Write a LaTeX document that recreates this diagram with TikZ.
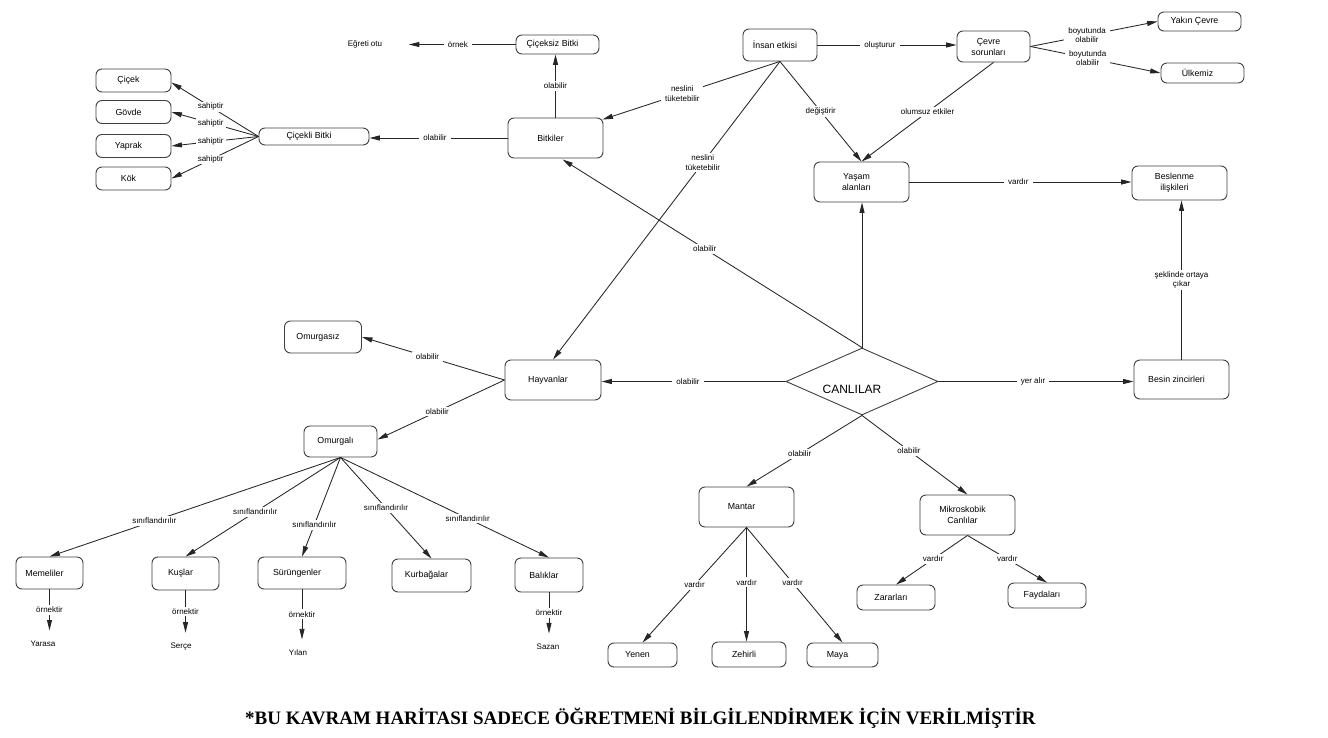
\documentclass[tikz,border=0pt]{standalone}
\usepackage{fontspec}
\setmainfont{Liberation Sans}
\newfontfamily\titlefont{Liberation Serif}
\usetikzlibrary{shapes.geometric,arrows.meta,calc}
\newcommand\sh{\hspace*{10pt}}
\begin{document}
\begin{tikzpicture}[x=1pt,y=-1pt,
  box/.style 2 args={draw=black!75, line width=0.9pt, rounded corners=6pt, fill=white,
     font=\fontsize{8.8}{11}\selectfont, align=center, inner sep=0pt,
     minimum width=#1pt, minimum height=#2pt},
  conn/.style={draw=black!85, line width=0.85pt, -{Triangle[length=10.5pt,width=5pt]}},
  lab/.style={fill=white, font=\fontsize{8}{9.5}\selectfont, inner xsep=4pt, inner ysep=2pt, align=center},
  plaintext/.style={font=\fontsize{8}{9.5}\selectfont, inner sep=1.5pt}]
\useasboundingbox (0,0) rectangle (1328,738);
\fill[white] (0,0) rectangle (1328,738);

% ---- nodes ----
\node[box={75}{23}] (cicek) at (133.5,80.5) {Çiçek\sh};
\node[box={75}{23}] (govde) at (133.5,112) {Gövde\sh};
\node[box={75}{23}] (yaprak) at (133.5,146) {Yaprak\sh};
\node[box={75}{23}] (kok) at (133.5,178.5) {Kök\sh};
\node[box={110}{17}] (cicekli) at (314,136.5) {Çiçekli Bitki\sh};
\node[box={83}{19}] (ciceksiz) at (557.5,44.5) {Çiçeksiz Bitki\sh};
\node[plaintext] (eg) at (365,44.5) {Eğreti otu};
\node[box={95}{40}] (bitkiler) at (555.5,138) {Bitkiler\sh};
\node[box={74}{32}] (insan) at (780,45) {İnsan etkisi\sh};
\node[box={73}{31}] (cevre) at (993.5,46.5) {Çevre\sh\\sorunları\sh};
\node[box={83}{19}] (yakin) at (1199.5,21.5) {Yakın Çevre\sh};
\node[box={83}{20}] (ulkemiz) at (1202.5,73) {Ülkemiz\sh};
\node[box={95}{40}] (yasam) at (861.5,182) {Yaşam\sh\\alanları\sh};
\node[box={95}{34}] (beslenme) at (1179.5,183) {Beslenme\sh\\ilişkileri\sh};
\node[box={95}{39}] (besin) at (1181.5,379.5) {Besin zincirleri\sh};
\node[draw=black!75, line width=0.9pt, diamond, fill=white, inner sep=0pt,
      minimum width=152pt, minimum height=67pt,
      label={[font=\fontsize{12}{14}\selectfont, xshift=-10pt, yshift=-7.5pt]center:CANLILAR}]
      (canlilar) at (862,381.5) {};
\node[box={96}{40}] (hayvanlar) at (553,380) {Hayvanlar\sh};
\node[box={77}{32}] (omurgasiz) at (323,337) {Omurgasız\sh};
\node[box={73}{31}] (omurgali) at (340.5,441.5) {Omurgalı\sh};
\node[box={67}{32}] (memeliler) at (49.5,573) {Memeliler\sh};
\node[box={67}{33}] (kuslar) at (185.5,573.5) {Kuşlar\sh};
\node[box={88}{32}] (surungenler) at (302,573) {Sürüngenler\sh};
\node[box={79}{33}] (kurbagalar) at (431.5,575.5) {Kurbağalar\sh};
\node[box={68}{34}] (baliklar) at (549,575) {Balıklar\sh};
\node[plaintext] (yarasa) at (43,644) {Yarasa};
\node[plaintext] (serce) at (181,647) {Serçe};
\node[plaintext] (yilan) at (298,653) {Yılan};
\node[plaintext] (sazan) at (548,647) {Sazan};
\node[box={95}{40}] (mantar) at (746.5,507) {Mantar\sh};
\node[box={95}{40}] (mikro) at (967.5,515) {Mikroskobik\sh\\Canlılar\sh};
\node[box={69}{24}] (yenen) at (642.5,655) {Yenen\sh};
\node[box={74}{25}] (zehirli) at (749,654.5) {Zehirli\sh};
\node[box={71}{24}] (maya) at (842.5,655) {Maya\sh};
\node[box={78}{25}] (zararlari) at (896,597.5) {Zararları\sh};
\node[box={78}{25}] (faydalari) at (1047,595.5) {Faydaları\sh};
\node[font=\titlefont\bfseries\fontsize{19}{22}\selectfont] (title) at (640.5,718)
  {*BU KAVRAM HARİTASI SADECE ÖĞRETMENİ BİLGİLENDİRMEK İÇİN VERİLMİŞTİR};

% ---- connectors ----
\draw[conn] (ciceksiz.west) -- node[lab,pos=0.54]{örnek} ([xshift=25pt]eg.east);
\draw[conn] (bitkiler.north) -- node[lab]{olabilir} (bitkiler.north |- ciceksiz.south);
\draw[conn] (bitkiler.west) -- node[lab,pos=0.525]{olabilir} (bitkiler.west -| cicekli.east);
\draw[conn] (cicekli.west) -- node[lab,pos=0.55,inner xsep=2pt,inner ysep=1pt]{sahiptir} ([yshift=-2pt]cicek.east);
\draw[conn] (cicekli.west) -- node[lab,pos=0.55,inner xsep=2pt,inner ysep=1pt]{sahiptir} (govde.east);
\draw[conn] (cicekli.west) -- node[lab,pos=0.55,inner xsep=2pt,inner ysep=1pt]{sahiptir} (yaprak.east);
\draw[conn] (cicekli.west) -- node[lab,pos=0.55,inner xsep=2pt,inner ysep=1pt]{sahiptir} (kok.east);

\draw[conn] (insan.east) -- node[lab,pos=0.45]{oluşturur} (insan.east -| cevre.west);
\draw[conn] (cevre.east) -- node[lab,pos=0.445]{boyutunda\\olabilir} (yakin.west);
\draw[conn] (cevre.east) -- node[lab,pos=0.44]{boyutunda\\olabilir} (ulkemiz.west);
\draw[conn] (insan.south) -- node[lab]{değiştirir} (yasam.north);
\draw[conn] (cevre.south) -- node[lab]{olumsuz etkiler} (yasam.north);
\draw[conn] (insan.south) -- node[lab,pos=0.55]{neslini\\tüketebilir} ([xshift=-1pt,yshift=-2pt]bitkiler.north east);
\draw[conn] (insan.south) -- node[lab,pos=0.34]{neslini\\tüketebilir} (hayvanlar.north);
\draw[conn] (yasam.east) -- node[lab,pos=0.49]{vardır} (yasam.east -| beslenme.west);
\draw[conn] (besin.north) -- node[lab]{şeklinde ortaya\\çıkar} (besin.north |- beslenme.south);

\draw[conn] (canlilar.east) -- node[lab,pos=0.485]{yer alır} (canlilar.east -| besin.west);
\draw[conn] (canlilar.north) -- (canlilar.north |- yasam.south);
\draw[conn] (canlilar.north) -- node[lab,pos=0.525]{olabilir} ([xshift=7pt,yshift=-1pt]bitkiler.south);
\draw[conn] (canlilar.west) -- node[lab,pos=0.53]{olabilir} (canlilar.west -| hayvanlar.east);
\draw[conn] (hayvanlar.west) -- node[lab,pos=0.54]{olabilir} (omurgasiz.east);
\draw[conn] (hayvanlar.west) -- node[lab,pos=0.53]{olabilir} ([yshift=2pt]omurgali.east);
\draw[conn] (canlilar.south) -- node[lab,pos=0.54]{olabilir} (mantar.north);
\draw[conn] (canlilar.south) -- node[lab,pos=0.445]{olabilir} (mikro.north);

\draw[conn] (omurgali.south) -- node[lab,pos=0.64]{sınıflandırılır} (memeliler.north);
\draw[conn] (omurgali.south) -- node[lab,pos=0.55]{sınıflandırılır} (kuslar.north);
\draw[conn] (omurgali.south) -- node[lab,pos=0.68,inner xsep=2pt]{sınıflandırılır} (surungenler.north);
\draw[conn] (omurgali.south) -- node[lab,pos=0.5]{sınıflandırılır} (kurbagalar.north);
\draw[conn] (omurgali.south) -- node[lab,pos=0.61]{sınıflandırılır} (baliklar.north);

\draw[conn] (memeliler.south) -- node[lab]{örnektir} ($(memeliler.south |- yarasa.north)+(0,-9)$);
\draw[conn] (kuslar.south) -- node[lab]{örnektir} ($(kuslar.south |- serce.north)+(0,-9)$);
\draw[conn] (surungenler.south) -- node[lab]{örnektir} ($(surungenler.south |- yilan.north)+(0,-9)$);
\draw[conn] (baliklar.south) -- node[lab]{örnektir} ($(baliklar.south |- sazan.north)+(0,-9)$);

\draw[conn] (mantar.south) -- node[lab]{vardır} (yenen.north);
\draw[conn] (mantar.south) -- node[lab,pos=0.48]{vardır} (mantar.south |- zehirli.north);
\draw[conn] (mantar.south) -- node[lab,pos=0.48]{vardır} (maya.north);
\draw[conn] (mikro.south) -- node[lab,pos=0.48]{vardır} (zararlari.north);
\draw[conn] (mikro.south) -- node[lab]{vardır} (faydalari.north);
\end{tikzpicture}
\end{document}
